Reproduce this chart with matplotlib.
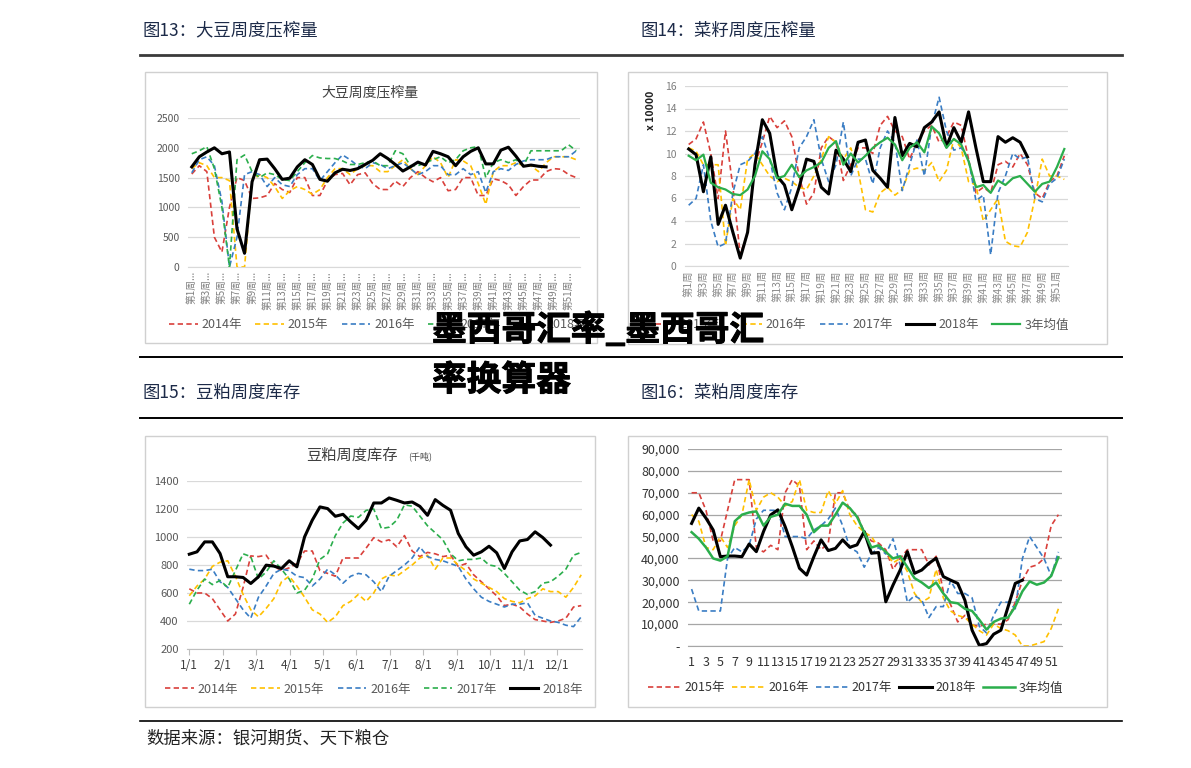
import matplotlib
matplotlib.use("Agg")
import matplotlib.pyplot as plt
import matplotlib.patheffects as pe
from matplotlib.lines import Line2D
from matplotlib.patches import Rectangle
import numpy as np

plt.rcParams['font.family'] = ['Noto Sans CJK SC', 'DejaVu Sans']

W, H = 1191, 768

# ---- 图13 大豆周度压榨量 (weeks 1-52)
soy_2014 = [1560, 1700, 1600, 500, 250, 1000, 1500, 1450, 1150, 1160, 1200, 1400, 1300, 1250, 1500, 1500,
            1200, 1200, 1450, 1550, 1570, 1380, 1550, 1580, 1400, 1300, 1300, 1440, 1350, 1500, 1600, 1500,
            1430, 1500, 1280, 1300, 1500, 1500, 1200, 1200, 1480, 1450, 1380, 1200, 1350, 1460, 1460, 1600,
            1650, 1640, 1550, 1500]
soy_2015 = [1650, 1750, 1700, 1500, 1500, 1450, 0, 0, 1450, 1550, 1500, 1350, 1150, 1280, 1350, 1300,
            1220, 1300, 1500, 1650, 1650, 1550, 1650, 1700, 1700, 1600, 1600, 1700, 1800, 1650, 1550, 1700,
            1850, 1750, 1500, 1800, 1780, 1700, 1400, 1050, 1600, 1700, 1700, 1750, 1700, 1700, 1600, 1750,
            1850, 1850, 1850, 1800]
soy_2016 = [1580, 1800, 1850, 1700, 1100, 0, 500, 1550, 1600, 1550, 1350, 1500, 1380, 1350, 1550, 1650,
            1650, 1450, 1600, 1750, 1880, 1800, 1700, 1650, 1750, 1720, 1650, 1700, 1750, 1650, 1550, 1600,
            1700, 1700, 1550, 1550, 1650, 1550, 1600, 1250, 1600, 1650, 1620, 1720, 1780, 1800, 1800, 1800,
            1850, 1850, 1850, 1950]
soy_2017 = [1900, 1950, 2020, 1650, 1000, 0, 1800, 1880, 1600, 1500, 1580, 1550, 1470, 1450, 1600, 1750,
            1870, 1830, 1820, 1820, 1780, 1720, 1720, 1750, 1780, 1700, 1700, 1950, 1900, 1700, 1700, 1750,
            1800, 1850, 1750, 1800, 1950, 2000, 2020, 1500, 1750, 1800, 1750, 1800, 1700, 1950, 1950, 1950,
            1950, 1950, 2050, 1950]
soy_2018 = [1680, 1850, 1930, 2000, 1900, 1930, 640, 230, 1430, 1800, 1810, 1650, 1470, 1490, 1680, 1800,
            1720, 1470, 1440, 1580, 1640, 1620, 1650, 1720, 1790, 1900, 1820, 1720, 1610, 1680, 1760, 1710,
            1940, 1900, 1850, 1700, 1850, 1940, 2000, 1730, 1730, 1960, 2010, 1860, 1690, 1710, 1690, 1680]

# ---- 图14 菜籽周度压榨量 (x 10000)
rs_2015 = [10.8, 11.3, 12.8, 10.0, 6.0, 12.0, 7.0, 1.0, 3.0, 9.0, 11.0, 13.3, 12.3, 12.9, 11.5, 8.0,
           5.5, 6.5, 10.5, 11.5, 11.0, 7.6, 9.0, 10.5, 10.5, 10.0, 12.5, 13.3, 12.0, 11.5, 9.5, 11.0,
           12.0, 12.5, 11.0, 11.5, 12.8, 12.5, 9.5, 6.5, 7.0, 6.5, 9.0, 9.3, 8.8, 10.0, 9.0, 6.5,
           6.0, 7.5, 8.0, 9.8]
rs_2016 = [10.5, 10.2, 9.0, 9.0, 9.0, 1.8, 6.0, 5.0, 9.5, 10.0, 9.0, 8.0, 7.5, 7.8, 7.5, 7.0,
           6.8, 8.0, 9.5, 11.5, 11.0, 9.5, 10.5, 8.5, 5.0, 4.8, 6.5, 7.0, 6.3, 6.8, 8.5, 8.7,
           8.5, 9.2, 7.5, 8.5, 11.3, 10.5, 7.5, 7.2, 4.0, 5.0, 6.0, 2.2, 1.8, 1.7, 3.0, 6.0,
           9.5, 8.0, 8.0, 7.7]
rs_2017 = [5.4, 6.0, 9.0, 4.0, 1.7, 2.0, 6.5, 9.0, 9.3, 10.0, 11.5, 9.5, 6.5, 5.0, 7.0, 10.5,
           11.5, 13.0, 9.5, 7.5, 9.0, 12.8, 8.0, 9.5, 9.5, 7.3, 10.5, 12.0, 11.0, 6.7, 9.0, 11.2,
           8.0, 12.5, 15.0, 12.0, 10.3, 10.5, 9.5, 5.8, 6.3, 1.0, 6.5, 8.0, 10.0, 9.5, 9.7, 6.0,
           5.7, 7.3, 7.8, 9.5]
rs_2018 = [10.4, 9.9, 6.6, 9.7, 3.7, 5.4, 3.0, 0.7, 3.0, 9.0, 13.0, 11.8, 8.0, 7.2, 5.0, 7.0,
           9.5, 9.3, 7.0, 6.4, 10.3, 9.5, 8.4, 11.0, 11.2, 8.5, 7.8, 7.0, 13.2, 9.8, 10.9, 10.6,
           12.3, 12.8, 13.7, 10.6, 12.3, 11.0, 13.7, 10.5, 7.5, 7.5, 11.5, 11.0, 11.4, 11.0, 9.7]
rs_avg = [9.8, 9.4, 9.9, 7.4, 7.0, 6.8, 6.4, 6.3, 6.8, 8.0, 10.2, 9.5, 7.8, 8.0, 9.0, 7.9,
          8.5, 8.8, 9.2, 10.5, 11.1, 9.0, 10.0, 9.2, 9.8, 10.5, 11.0, 11.4, 10.8, 9.4, 10.5, 11.0,
          10.1, 12.4, 11.8, 10.5, 11.3, 10.8, 9.3, 7.0, 7.2, 6.5, 7.6, 7.2, 7.8, 8.0, 7.3, 6.6,
          7.3, 7.5, 8.8, 10.4]

# ---- 图15 豆粕周度库存 (千吨)
sm_2014 = [630, 600, 600, 560, 480, 400, 450, 640, 865, 860, 870, 790, 760, 780, 810, 900,
           900, 760, 740, 720, 850, 850, 850, 920, 995, 965, 980, 930, 1010, 900, 860, 890,
           880, 860, 870, 790, 810, 730, 680, 630, 580, 510, 520, 500, 450, 410, 400, 390,
           400, 420, 500, 510]
sm_2015 = [580, 650, 700, 790, 820, 830, 720, 590, 480, 430, 490, 560, 680, 720, 650, 570,
           480, 450, 390, 430, 510, 540, 590, 540, 600, 700, 730, 720, 760, 800, 850, 870,
           770, 850, 850, 800, 760, 700, 670, 640, 610, 560, 540, 530, 560, 580, 630, 610,
           610, 570, 640, 730]
sm_2016 = [770, 760, 760, 770, 680, 640, 560, 480, 420, 570, 650, 740, 770, 760, 720, 710,
           650, 700, 770, 730, 670, 720, 740, 730, 680, 610, 720, 760, 800, 850, 930, 860,
           840, 830, 810, 790, 700, 630, 570, 540, 520, 500, 520, 520, 530, 440, 420, 400,
           390, 370, 360, 430]
sm_2017 = [520, 620, 700, 660, 690, 640, 760, 880, 860, 700, 750, 830, 770, 700, 600, 620,
           700, 840, 880, 1010, 1100, 1150, 1140, 1190, 1200, 1060, 1070, 1120, 1230, 1220, 1150, 1080,
           1030, 980, 880, 830, 840, 840, 850, 800, 790, 740, 680, 620, 590, 610, 670, 680,
           720, 770, 870, 890]
sm_2018 = [877, 894, 965, 965, 882, 716, 716, 711, 668, 716, 799, 792, 775, 830, 787, 1001,
           1120, 1215, 1203, 1148, 1162, 1108, 1060, 1120, 1243, 1243, 1279, 1262, 1243, 1250, 1219, 1155,
           1267, 1226, 1191, 1025, 930, 870, 894, 934, 887, 775, 894, 972, 982, 1037, 996, 942]
sm_months = ['1/1', '2/1', '3/1', '4/1', '5/1', '6/1', '7/1', '8/1', '9/1', '10/1', '11/1', '12/1']

# ---- 图16 菜粕周度库存
rm_2015 = [70000, 70000, 62000, 48000, 48000, 62000, 76000, 76000, 76000, 45000, 43000, 46000, 44000,
           70000, 76000, 73000, 44000, 48000, 44000, 47000, 70000, 70000, 62000, 60000, 52000, 48000,
           47000, 44000, 35000, 40000, 44000, 44000, 44000, 37000, 41000, 25000, 19000, 11000, 14000,
           9500, 9000, 10000, 10000, 10000, 12000, 20000, 30000, 36000, 37000, 40000, 55000, 60000]
rm_2016 = [60000, 57000, 45000, 44000, 50000, 45000, 55000, 60000, 76000, 62000, 68000, 70000, 68000,
           64000, 66000, 76000, 62000, 61000, 61000, 71000, 65000, 71000, 60000, 55000, 52000, 50000,
           45000, 43000, 38000, 40000, 34000, 24000, 20000, 22000, 35000, 22000, 16000, 14000, 13000,
           10000, 7000, 5000, 10000, 8000, 7000, 5000, 0, 0, 1000, 2000, 8000, 17000]
rm_2017 = [26000, 16000, 16000, 16000, 16000, 40000, 45000, 43000, 46000, 58000, 62000, 62000, 62000,
           50000, 50000, 50000, 49000, 53000, 55000, 58000, 63000, 55000, 45000, 43000, 36000, 42000,
           45000, 42000, 49000, 37000, 20000, 23000, 21000, 13000, 18000, 18000, 30000, 24000, 24000,
           22000, 9000, 6000, 14000, 20000, 20000, 17000, 40000, 50000, 45000, 40000, 32000, 43000]
rm_2018 = [56000, 63000, 58400, 53000, 40800, 41100, 41100, 40800, 46600, 43100, 52300, 59900, 62200,
           54600, 45400, 35500, 32400, 40800, 48500, 43600, 44600, 48500, 45100, 46200, 52300, 42400,
           42700, 20200, 27800, 34700, 43100, 33200, 34700, 37800, 40100, 31700, 30100, 28600, 20900,
           7200, 300, 1100, 5400, 7200, 17900, 28600, 30100]
rm_avg = [52000, 49000, 45000, 40000, 39000, 41000, 57000, 60000, 61000, 61500, 55000, 59000, 60000,
          65000, 64000, 64000, 60000, 52000, 55000, 55000, 60000, 65500, 63000, 59000, 52000, 45000,
          46000, 43000, 40000, 41000, 36000, 31000, 29000, 26500, 29000, 24000, 20000, 19500, 17000,
          16000, 12000, 7500, 11000, 12500, 13000, 18000, 25000, 29500, 28000, 29000, 32000, 40500]

RED, YEL, BLU, GRN = '#d9403b', '#ffc000', '#3a7dc4', '#2bae4c'
DASH = (0, (3.2, 2.0))
GRAY_TXT = '#595959'


def box(x0, y0, x1, y1):
    return [x0 / W, 1 - y1 / H, (x1 - x0) / W, (y1 - y0) / H]


def frame(x0, y0, x1, y1):
    fig.patches.append(Rectangle((x0 / W, 1 - y1 / H), (x1 - x0) / W, (y1 - y0) / H,
                                 transform=fig.transFigure, fill=False, ec='#d0d0d0', lw=1.0))


def hrule(y, x0=140, x1=1122, lw=1.4, c='black'):
    fig.add_artist(Line2D([x0 / W, x1 / W], [1 - y / H, 1 - y / H], transform=fig.transFigure,
                          color=c, lw=lw))


def style_axes(ax, grid_c='#d9d9d9', axis_c='#d9d9d9'):
    for s in ['top', 'right', 'left']:
        ax.spines[s].set_visible(False)
    ax.spines['bottom'].set_color(axis_c)
    ax.grid(axis='y', color=grid_c, lw=0.9)
    ax.set_axisbelow(True)
    ax.tick_params(axis='y', length=0, pad=6)


def legend(ax, x, y, spacing=1.05, hl=2.3, color=GRAY_TXT):
    lg = ax.legend(loc='center', bbox_to_anchor=(x / W, 1 - y / H), bbox_transform=fig.transFigure,
                   ncol=5, frameon=False, fontsize=9, handlelength=hl, columnspacing=spacing,
                   handletextpad=0.3, borderpad=0)
    for t in lg.get_texts():
        t.set_color(color)
    return lg


fig = plt.figure(figsize=(W / 100, H / 100), dpi=100)

# captions and rules
cap_c = '#1c2a48'
fig.text(143 / W, 1 - 30 / H, '图13：大豆周度压榨量', fontsize=12.5, color=cap_c, va='center')
fig.text(640 / W, 1 - 30 / H, '图14：菜籽周度压榨量', fontsize=12.5, color=cap_c, va='center')
fig.text(143 / W, 1 - 393 / H, '图15：豆粕周度库存', fontsize=12.5, color=cap_c, va='center')
fig.text(640 / W, 1 - 393 / H, '图16：菜粕周度库存', fontsize=12.5, color=cap_c, va='center')
fig.text(146 / W, 1 - 739 / H, '数据来源：银河期货、天下粮仓', fontsize=12.5, color='#222222', va='center')
hrule(55, lw=2.0, c='#3a3a3a')
hrule(357)
hrule(418)
hrule(721, lw=1.2)

frame(145, 72, 597, 343)
frame(628, 72, 1107, 344)
frame(145, 436, 595, 707)
frame(628, 436, 1107, 707)

# ---- chart 1
weeks = np.arange(1, 53)
ax1 = fig.add_axes(box(188, 118, 580, 267))
ax1.plot(weeks, soy_2014, color=RED, ls=DASH, lw=1.2, label='2014年')
ax1.plot(weeks, soy_2015, color=YEL, ls=DASH, lw=1.2, label='2015年')
ax1.plot(weeks, soy_2016, color=BLU, ls=DASH, lw=1.2, label='2016年')
ax1.plot(weeks, soy_2017, color=GRN, ls=DASH, lw=1.2, label='2017年')
ax1.plot(weeks[:len(soy_2018)], soy_2018, color='black', lw=2.2, label='2018年')
ax1.set_ylim(0, 2500)
ax1.set_xlim(0.5, 52.5)
ax1.set_yticks(range(0, 2501, 500))
ax1.set_xticks(weeks[::2])
ax1.set_xticklabels([f'第{w}周...' for w in weeks[::2]], rotation=90, fontsize=7, color='#7f7f7f')
ax1.tick_params(axis='x', length=0, pad=3)
ax1.tick_params(axis='y', labelsize=7.5, labelcolor=GRAY_TXT)
style_axes(ax1)
fig.text(370 / W, 1 - 92 / H, '大豆周度压榨量', fontsize=10, color='#404040', ha='center', va='center')
legend(ax1, 378, 325)

# ---- chart 2
ax2 = fig.add_axes(box(685, 86, 1068, 266))
ax2.plot(weeks, rs_2015, color=RED, ls=DASH, lw=1.2, label='2015年')
ax2.plot(weeks, rs_2016, color=YEL, ls=DASH, lw=1.2, label='2016年')
ax2.plot(weeks, rs_2017, color=BLU, ls=DASH, lw=1.2, label='2017年')
ax2.plot(weeks[:len(rs_2018)], rs_2018, color='black', lw=2.2, label='2018年')
ax2.plot(weeks, rs_avg, color=GRN, lw=1.6, label='3年均值')
ax2.set_ylim(0, 16)
ax2.set_xlim(0.5, 52.5)
ax2.set_yticks(range(0, 17, 2))
ax2.set_xticks(weeks[::2])
ax2.set_xticklabels([f'第{w}周' for w in weeks[::2]], rotation=90, fontsize=7.5, color='#8c8c8c')
ax2.tick_params(axis='x', length=0, pad=3)
ax2.tick_params(axis='y', labelsize=7.5, labelcolor='#7f7f7f')
style_axes(ax2)
fig.text(651 / W, 1 - 110 / H, 'x 10000', fontsize=7.5, fontweight='bold', rotation=90,
         ha='center', va='center', color='#222222')
legend(ax2, 858, 325)

# ---- chart 3
idx = np.arange(52)
ax3 = fig.add_axes(box(187, 481, 582, 649))
ax3.plot(idx, sm_2014, color=RED, ls=DASH, lw=1.2, label='2014年')
ax3.plot(idx, sm_2015, color=YEL, ls=DASH, lw=1.2, label='2015年')
ax3.plot(idx, sm_2016, color=BLU, ls=DASH, lw=1.2, label='2016年')
ax3.plot(idx, sm_2017, color=GRN, ls=DASH, lw=1.2, label='2017年')
ax3.plot(idx[:len(sm_2018)], sm_2018, color='black', lw=2.2, label='2018年')
ax3.set_ylim(200, 1400)
ax3.set_xlim(-0.3, 51.1)
ax3.set_yticks(range(200, 1401, 200))
ax3.set_xticks(np.arange(12) * 4.35)
ax3.set_xticklabels(sm_months, fontsize=8.5, color='#404040')
ax3.tick_params(axis='x', length=4, color='#bfbfbf', pad=3)
ax3.tick_params(axis='y', labelsize=8, labelcolor=GRAY_TXT)
style_axes(ax3, axis_c='#bfbfbf')
fig.text(352 / W, 1 - 455 / H, '豆粕周度库存', fontsize=11, color='#404040', ha='center', va='center')
fig.text(420 / W, 1 - 456 / H, '(千吨)', fontsize=6.5, color='#404040', ha='center', va='center')
legend(ax3, 374, 689)

# ---- chart 4
ax4 = fig.add_axes(box(688, 449, 1062, 646))
ax4.plot(weeks, rm_2015, color=RED, ls=DASH, lw=1.2, label='2015年')
ax4.plot(weeks, rm_2016, color=YEL, ls=DASH, lw=1.2, label='2016年')
ax4.plot(weeks, rm_2017, color=BLU, ls=DASH, lw=1.2, label='2017年')
ax4.plot(weeks[:len(rm_2018)], rm_2018, color='black', lw=2.2, label='2018年')
ax4.plot(weeks, rm_avg, color=GRN, lw=1.8, label='3年均值')
ax4.set_ylim(0, 90000)
ax4.set_xlim(0.5, 52.5)
ax4.set_yticks(range(0, 90001, 10000))
ax4.set_yticklabels(['-'] + [f'{v:,}' for v in range(10000, 90001, 10000)])
ax4.set_xticks(weeks[::2])
ax4.set_xticklabels([str(w) for w in weeks[::2]], fontsize=9, color='#333333')
ax4.tick_params(axis='x', length=0, pad=7)
ax4.tick_params(axis='y', labelsize=9, labelcolor='#333333')
style_axes(ax4, grid_c='#a6a6a6', axis_c='#a6a6a6')
legend(ax4, 856, 688, spacing=0.55, hl=2.6, color='#333333')

# overlay title
halo = [pe.withStroke(linewidth=0.7, foreground='black')]
fig.text(432 / W, 1 - 330 / H, '墨西哥汇率_墨西哥汇', fontsize=25, fontweight='heavy', color='black',
         va='center', ha='left', path_effects=halo)
fig.text(432 / W, 1 - 380 / H, '率换算器', fontsize=25, fontweight='heavy', color='black',
         va='center', ha='left', path_effects=halo)

fig.savefig('out.png', dpi=100)
